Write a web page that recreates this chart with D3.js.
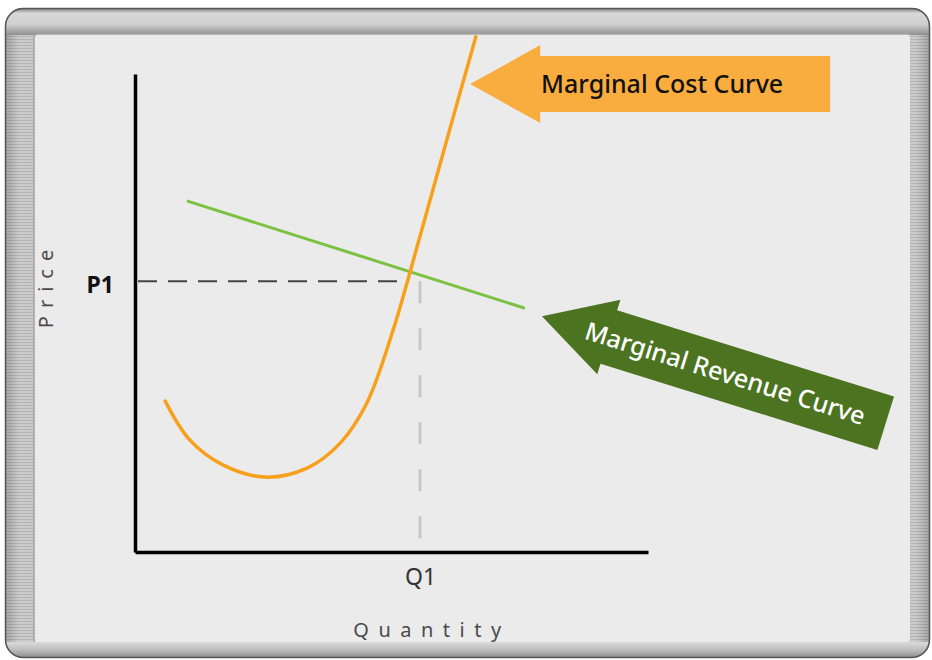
<!DOCTYPE html>
<html>
<head>
<meta charset="utf-8">
<script src="https://cdn.jsdelivr.net/npm/d3@7"></script>
<style>
  body { margin: 0; background: #fff; }
  text { font-family: "Noto Sans", sans-serif; }
</style>
</head>
<body>
<svg id="chart"></svg>
<script>
// marginal cost curve (quantity / price units)
const mcQuantity = [0.53, 0.96, 1.54, 2.28, 3.02, 3.6, 4.07, 4.54, 4.82, 5.47, 5.98];
const mcPrice    = [2.84, 2.11, 1.64, 1.41, 1.58, 2.05, 2.81, 4.22, 5.25, 7.76, 9.7];

// marginal revenue line
const mrQuantity = [0.91, 6.84];
const mrPrice    = [6.61, 4.59];

// equilibrium markers
const priceTicks = [5.1];
const priceLabels = ['P1'];
const quantityTicks = [5.0];
const quantityLabels = ['Q1'];

// callouts: tip position in data units, angle in degrees
const calloutText = ['Marginal Cost Curve', 'Marginal Revenue Curve'];
const calloutTipQ = [5.88, 7.14];
const calloutTipP = [8.81, 4.44];
const calloutAngle = [0, 17.3];
const calloutFill = ['#f9ad3f', '#4b7320'];
const calloutInk = ['#111', '#fff'];

const width = 932;
const height = 660;

const svg = d3.select('#chart')
  .attr('width', width)
  .attr('height', height);

const xScale = d3.scaleLinear().domain([0, 9]).range([135, 648]);
const yScale = d3.scaleLinear().domain([0, 9]).range([552, 74]);

const drawFrame = () => {
  const defs = svg.append('defs');

  const stripes = defs.append('pattern')
    .attr('id', 'stripes')
    .attr('width', 4).attr('height', 3)
    .attr('patternUnits', 'userSpaceOnUse');
  stripes.append('rect').attr('width', 4).attr('height', 3).attr('fill', '#cbcbcb');
  stripes.append('rect').attr('width', 4).attr('height', 1).attr('fill', '#b3b3b3');

  const top = defs.append('linearGradient')
    .attr('id', 'topBand').attr('x1', 0).attr('x2', 0).attr('y1', 0).attr('y2', 1);
  top.append('stop').attr('offset', '0%').attr('stop-color', '#7a7a7a');
  top.append('stop').attr('offset', '20%').attr('stop-color', '#d8d8d8');
  top.append('stop').attr('offset', '60%').attr('stop-color', '#d0d0d0');
  top.append('stop').attr('offset', '85%').attr('stop-color', '#a8a8a8');
  top.append('stop').attr('offset', '100%').attr('stop-color', '#8e8e8e');

  const bottom = defs.append('linearGradient')
    .attr('id', 'bottomBand').attr('x1', 0).attr('x2', 0).attr('y1', 0).attr('y2', 1);
  bottom.append('stop').attr('offset', '0%').attr('stop-color', '#dadada');
  bottom.append('stop').attr('offset', '50%').attr('stop-color', '#bdbdbd');
  bottom.append('stop').attr('offset', '100%').attr('stop-color', '#8a8a8a');

  const side = defs.append('linearGradient')
    .attr('id', 'sideShade').attr('x1', 0).attr('x2', 1).attr('y1', 0).attr('y2', 0);
  side.append('stop').attr('offset', '0%').attr('stop-color', '#000').attr('stop-opacity', 0.2);
  side.append('stop').attr('offset', '1.5%').attr('stop-color', '#000').attr('stop-opacity', 0);
  side.append('stop').attr('offset', '98.5%').attr('stop-color', '#000').attr('stop-opacity', 0);
  side.append('stop').attr('offset', '100%').attr('stop-color', '#000').attr('stop-opacity', 0.2);

  defs.append('clipPath').attr('id', 'frameClip')
    .append('rect')
    .attr('x', 5).attr('y', 8).attr('width', 925).attr('height', 650).attr('rx', 18);

  const frame = svg.append('g').attr('clip-path', 'url(#frameClip)');
  frame.append('rect')
    .attr('x', 5).attr('y', 8).attr('width', 925).attr('height', 650)
    .attr('fill', 'url(#stripes)');
  frame.append('rect')
    .attr('x', 5).attr('y', 8).attr('width', 925).attr('height', 650)
    .attr('fill', 'url(#sideShade)');
  frame.append('rect')
    .attr('x', 5).attr('y', 8).attr('width', 925).attr('height', 27)
    .attr('fill', 'url(#topBand)');
  frame.append('rect')
    .attr('x', 5).attr('y', 642).attr('width', 925).attr('height', 16)
    .attr('fill', 'url(#bottomBand)');

  svg.append('rect')
    .attr('x', 5.5).attr('y', 8.5).attr('width', 924).attr('height', 649).attr('rx', 18)
    .attr('fill', 'none')
    .attr('stroke', '#555')
    .attr('stroke-width', 1.5);

  // inner panel
  svg.append('rect')
    .attr('x', 34).attr('y', 34).attr('width', 876).attr('height', 608).attr('rx', 4)
    .attr('fill', '#ebebeb');
  svg.append('path')
    .attr('d', 'M34,642 V38 Q34,34 38,34 H910')
    .attr('fill', 'none')
    .attr('stroke', '#a4a4a4')
    .attr('stroke-width', 1.5);
}

const drawGuides = () => {
  const guides = svg.append('g').attr('class', 'guides');

  guides.selectAll('.p-guide')
    .data(priceTicks)
    .enter()
    .append('line')
    .attr('class', 'p-guide')
    .attr('x1', xScale(0) + 3)
    .attr('x2', xScale(4.6))
    .attr('y1', (d) => yScale(d))
    .attr('y2', (d) => yScale(d))
    .attr('stroke', '#444')
    .attr('stroke-width', 2)
    .attr('stroke-dasharray', '19,11');

  guides.selectAll('.q-guide')
    .data(quantityTicks)
    .enter()
    .append('line')
    .attr('class', 'q-guide')
    .attr('x1', (d) => xScale(d))
    .attr('x2', (d) => xScale(d))
    .attr('y1', yScale(priceTicks[0]))
    .attr('y2', yScale(0.08))
    .attr('stroke', '#c8c8c8')
    .attr('stroke-width', 3)
    .attr('stroke-dasharray', '22,25');
}

const drawCurves = () => {
  const line = d3.line()
    .x((d) => xScale(d[0]))
    .y((d) => yScale(d[1]));

  const mr = mrQuantity.map((q, i) => [q, mrPrice[i]]);
  svg.append('path')
    .datum(mr)
    .attr('d', line)
    .attr('fill', 'none')
    .attr('stroke', '#7cc242')
    .attr('stroke-width', 3);

  const mc = mcQuantity.map((q, i) => [q, mcPrice[i]]);
  svg.append('path')
    .datum(mc)
    .attr('d', line.curve(d3.curveCatmullRom.alpha(0.5)))
    .attr('fill', 'none')
    .attr('stroke', '#f7a01c')
    .attr('stroke-width', 3.5)
    .attr('stroke-linecap', 'round');
}

const drawAxes = () => {
  const yAxis = d3.axisLeft(yScale)
    .tickValues(priceTicks)
    .tickFormat((d, i) => priceLabels[i])
    .tickSize(0)
    .tickSizeOuter(0)
    .tickPadding(21);

  const xAxis = d3.axisBottom(xScale)
    .tickValues(quantityTicks)
    .tickFormat((d, i) => quantityLabels[i])
    .tickSize(0)
    .tickSizeOuter(0)
    .tickPadding(17);

  const gy = svg.append('g')
    .attr('id', 'y-axis')
    .attr('transform', `translate(${xScale(0)},0)`)
    .call(yAxis);
  gy.select('.domain').attr('stroke', '#000').attr('stroke-width', 3.5);
  gy.selectAll('text')
    .attr('fill', '#111')
    .attr('font-family', '"Noto Sans", sans-serif')
    .attr('font-size', 23)
    .attr('font-weight', 'bold')
    .attr('dy', '0.5em');

  const gx = svg.append('g')
    .attr('id', 'x-axis')
    .attr('transform', `translate(0,${yScale(0)})`)
    .call(xAxis);
  gx.select('.domain').attr('stroke', '#000').attr('stroke-width', 3.5);
  gx.selectAll('text')
    .attr('fill', '#333')
    .attr('font-family', '"Noto Sans", sans-serif')
    .attr('font-size', 23);

  svg.append('text')
    .attr('x', 432)
    .attr('y', 637)
    .attr('text-anchor', 'middle')
    .attr('fill', '#4a4a4a')
    .attr('font-size', 20)
    .attr('letter-spacing', 9.5)
    .text('Quantity');

  svg.append('text')
    .attr('transform', 'translate(53,285) rotate(-90)')
    .attr('text-anchor', 'middle')
    .attr('fill', '#4a4a4a')
    .attr('font-size', 20)
    .attr('letter-spacing', 8)
    .text('Price');
}

const drawCallouts = () => {
  const shape = [[0, 0], [70, -39], [70, -28], [360, -28], [360, 28], [70, 28], [70, 39]];

  const g = svg.selectAll('.callout')
    .data(calloutText)
    .enter()
    .append('g')
    .attr('class', 'callout')
    .attr('transform', (d, i) =>
      `translate(${xScale(calloutTipQ[i])},${yScale(calloutTipP[i])}) rotate(${calloutAngle[i]})`);

  g.append('polygon')
    .attr('points', shape.map((p) => p.join(',')).join(' '))
    .attr('fill', (d, i) => calloutFill[i]);

  g.append('text')
    .attr('x', 192)
    .attr('y', 9)
    .attr('text-anchor', 'middle')
    .attr('font-size', 25)
    .attr('font-weight', 500)
    .attr('fill', (d, i) => calloutInk[i])
    .text((d) => d);
}

drawFrame();
drawGuides();
drawCurves();
drawAxes();
drawCallouts();
</script>
</body>
</html>
